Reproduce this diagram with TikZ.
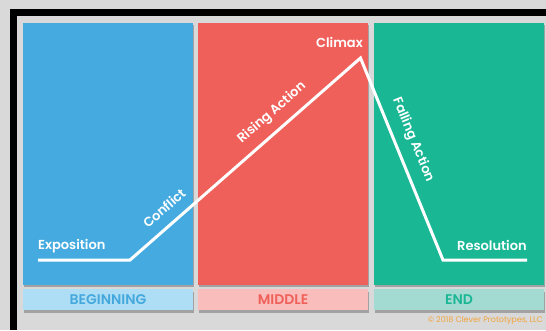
\documentclass[tikz,border=0pt]{standalone}
\usepackage{fontspec}
\setmainfont{Poppins}
\newfontfamily\semib{Poppins SemiBold}
\usetikzlibrary{shadows}
\definecolor{bgGray}{HTML}{D9D9D9}
\definecolor{pBlue}{HTML}{45AAE0}
\definecolor{pRed}{HTML}{F0605A}
\definecolor{pTeal}{HTML}{1AB795}
\definecolor{lBlue}{HTML}{ADDEF5}
\definecolor{lRed}{HTML}{F9BDBB}
\definecolor{lTeal}{HTML}{A3DAD1}
\definecolor{tBlue}{HTML}{45A8DD}
\definecolor{tRed}{HTML}{F0605A}
\definecolor{tTeal}{HTML}{1AB795}
\definecolor{copyOrange}{HTML}{F2A33A}
\tikzset{
  panel/.style={rectangle, inner sep=0pt, minimum width=170pt, minimum height=262pt,
    drop shadow={shadow xshift=1pt, shadow yshift=-2pt, fill=black, opacity=0.25}},
  section/.style={rectangle, inner sep=0pt, minimum width=170pt, minimum height=21pt,
    font=\fontsize{14}{16}\selectfont\semib,
    drop shadow={shadow xshift=1pt, shadow yshift=-3pt, fill=black, opacity=0.25}},
  arc/.style={draw=white, line width=3pt},
  plotlabel/.style={text=white, inner sep=0pt, font=\fontsize{13}{15}\selectfont\semib},
}
\begin{document}
\begin{tikzpicture}[x=1pt,y=-1pt]
\useasboundingbox (0,0) rectangle (546,330);
\fill[bgGray] (0,0) rectangle (546,330);
% black frame
\fill[black] (10,9) rectangle (546,16);
\fill[black] (10,9) rectangle (17,330);
% panels
\node[panel, fill=pBlue] (pb) at (108,154) {};
\node[panel, fill=pRed] (pr) at (283,154) {};
\node[panel, fill=pTeal] (pt) at (459,154) {};
% section labels
\node[section, fill=lBlue, text=tBlue] (sb) at (108,299.5) {BEGINNING};
\node[section, fill=lRed, text=tRed] (sr) at (283,299.5) {MIDDLE};
\node[section, fill=lTeal, text=tTeal] (st) at (459,299.5) {END};
% plot line
\coordinate (e0) at (38,260);
\coordinate (c0) at (130,260);
\coordinate (cl) at (360.5,58);
\coordinate (f1) at (443,260);
\coordinate (r1) at (527,260);
\draw[arc] (e0) -- (c0) -- (cl) -- (f1) -- (r1);
% labels
\node[plotlabel, anchor=base west] (lexp) at (38,249) {Exposition};
\node[plotlabel, rotate=41.3] (lcon) at (164,208) {Conflict};
\node[plotlabel, rotate=41.3] (lris) at (272,113) {Rising Action};
\node[plotlabel, anchor=base east] (lcli) at (363,47) {Climax};
\node[plotlabel, rotate=-67.7] (lfal) at (413,140) {Falling Action};
\node[plotlabel, anchor=base west] (lres) at (457,250) {Resolution};
% copyright
\node[text=copyOrange, anchor=base east, inner sep=0pt, font=\fontsize{8}{9}\selectfont] (copy) at (543,322) {© 2018 Clever Prototypes, LLC};
\end{tikzpicture}
\end{document}
